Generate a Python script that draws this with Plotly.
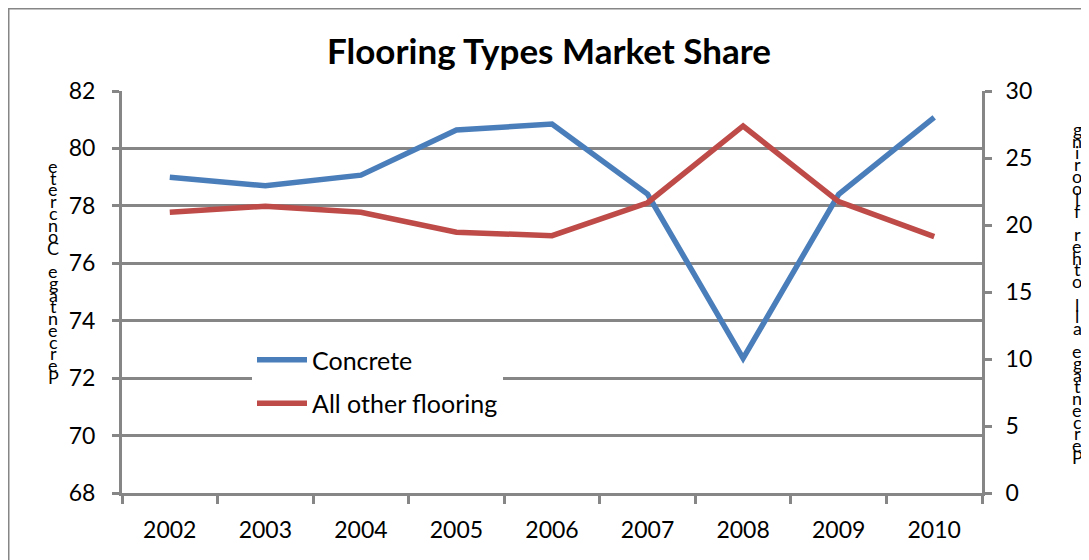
import plotly.graph_objects as go

years = ["2002", "2003", "2004", "2005", "2006", "2007", "2008", "2009", "2010"]
concrete = [79.0, 78.7, 79.07, 80.64, 80.85, 78.41, 72.69, 78.4, 81.08]
other_flooring = [20.95, 21.4, 20.95, 19.46, 19.2, 21.66, 27.39, 21.74, 19.13]

left_title = "Percentage Concrete"
right_title = "Percentage all other flooring"

GREY = "#868686"
FONT = "Lato"
OFF = 8  # page body margin
W, H = 1089 - OFF, 560 - OFF
L, T = 122 - OFF, 91 - OFF
R, B = W - (982 - OFF), H - (493 - OFF)
PW, PH = W - L - R, H - T - B


def px_x(x):
    # screen pixel -> paper coordinate
    return (x - OFF - L) / PW


def px_y(y):
    return (H - B - (y - OFF)) / PH


fig = go.Figure()
fig.add_trace(go.Scatter(
    x=years, y=concrete, name="Concrete", mode="lines",
    line=dict(color="#4A7EBB", width=5.5), legendgroup="a",
))
fig.add_trace(go.Scatter(
    x=years, y=other_flooring, name="All other flooring", mode="lines",
    line=dict(color="#BE4B48", width=5.5), yaxis="y2", legendgroup="b",
))

# stacked-letter axis titles (as rendered in the original)
annotations = []
step = 11.7
for title, cx, top in [(left_title, 53, 166), (right_title, 1077, 129)]:
    for i, ch in enumerate(title[::-1]):
        annotations.append(dict(
            text=ch, x=px_x(cx), y=px_y(top + i * step), xref="paper", yref="paper",
            showarrow=False, xanchor="center", yanchor="middle",
            font=dict(family=FONT, size=18, color="black"),
        ))

tickfont = dict(family=FONT, size=23, color="black")
fig.update_layout(
    width=W, height=H,
    margin=dict(l=L, r=R, t=T, b=B, autoexpand=False),
    paper_bgcolor="white", plot_bgcolor="white",
    font=dict(family=FONT, size=18, color="black"),
    title=dict(text="<b>Flooring Types Market Share</b>", x=px_x(549), xref="paper",
               xanchor="center", y=1 - (52 - OFF) / H, yanchor="middle",
               font=dict(family=FONT, size=35, color="black")),
    xaxis=dict(type="category", range=[-0.5, 8.5], automargin=False,
               showline=True, linecolor=GREY, linewidth=3,
               ticks="outside", tickson="boundaries", ticklen=8, tickwidth=3, tickcolor=GREY,
               showgrid=False, ticklabelstandoff=14, tickfont=tickfont),
    yaxis=dict(range=[68, 82], dtick=2, automargin=False,
               showline=True, linecolor=GREY, linewidth=3,
               showgrid=True, gridcolor=GREY, gridwidth=2.5, zeroline=False,
               ticks="outside", ticklen=7, tickwidth=3, tickcolor=GREY,
               ticklabelstandoff=12, tickfont=tickfont),
    yaxis2=dict(range=[0, 30], dtick=5, overlaying="y", side="right", automargin=False,
                showline=True, linecolor=GREY, linewidth=3, showgrid=False, zeroline=False,
                ticks="outside", ticklen=7, tickwidth=3, tickcolor=GREY,
                ticklabelstandoff=9, tickfont=tickfont),
    legend=dict(x=px_x(252), y=px_y(337), xanchor="left", yanchor="top",
                bgcolor="white", font=dict(family=FONT, size=25, color="black"),
                traceorder="grouped", tracegroupgap=8, itemwidth=50),
    showlegend=True,
    annotations=annotations,
    shapes=[dict(type="rect", xref="paper", yref="paper",
                 x0=px_x(8), x1=px_x(1100), y0=px_y(580), y1=px_y(8),
                 line=dict(color=GREY, width=3), layer="below")],
)

fig.write_html("out.html")
